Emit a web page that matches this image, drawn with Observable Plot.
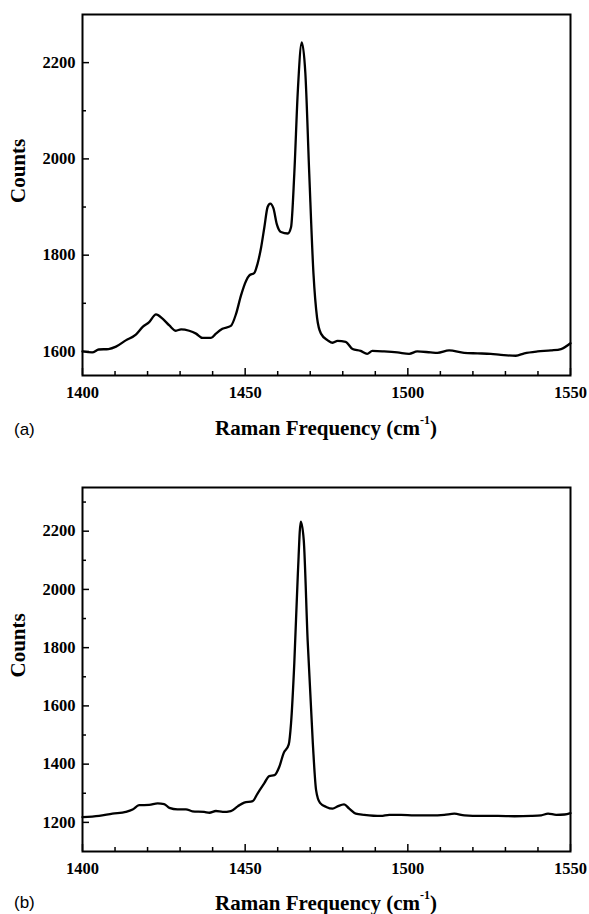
<!DOCTYPE html>
<html><head><meta charset="utf-8">
<script src="https://cdn.jsdelivr.net/npm/d3@7"></script>
<script src="https://cdn.jsdelivr.net/npm/@observablehq/plot@0.6"></script>
<style>
body{margin:0;background:#fff;}
#page{position:relative;width:589px;height:914px;overflow:hidden;background:#fff;}
.panel{position:absolute;left:0;width:589px;}
.xt{position:absolute;font-family:"Liberation Serif",serif;font-weight:bold;font-size:21px;white-space:nowrap;transform:translate(-50%,-50%);color:#000;}
.xt sup{font-size:12px;position:relative;top:-3px;}
.lab{position:absolute;font-family:"Liberation Sans",Arial,sans-serif;font-size:17px;transform:translate(0,-50%);color:#000;}
</style></head>
<body>
<div id="page">
  <div class="panel" id="pa" style="top:0px"></div>
  <div class="panel" id="pb" style="top:460px"></div>
  <div class="lab" style="left:14px;top:430px">(a)</div>
  <div class="xt" style="left:326px;top:428px">Raman Frequency (cm<sup>-1</sup>)</div>
  <div class="lab" style="left:14px;top:903px">(b)</div>
  <div class="xt" style="left:326px;top:903px">Raman Frequency (cm<sup>-1</sup>)</div>
</div>
<script>
const xMajor = [1400, 1450, 1500, 1550];
const xMinor = [1410,1420,1430,1440,1460,1470,1480,1490,1510,1520,1530,1540];

const yMajorA = [1600, 1800, 2000, 2200];
const yMinorA = [1700, 1900, 2100];
const yMajorB = [1200, 1400, 1600, 1800, 2000, 2200];
const yMinorB = [1300, 1500, 1700, 1900, 2100, 2300];

const freqA = [1400,1403,1405,1408,1410.3,1413.3,1416.4,1418.5,1420.5,1422.6,1424.6,1426.7,1428.7,1430.3,1432.8,1434.9,1436.9,1439.5,1441,1443,1445.6,1447.2,1448.7,1450.3,1451.3,1452.8,1453.8,1454.9,1455.9,1456.9,1457.7,1458.7,1459.7,1461,1463.1,1464.1,1465.1,1466.2,1467.4,1468.5,1469.7,1471,1472.1,1473.3,1475.4,1476.9,1478.4,1480.9,1483,1485.5,1487.5,1489.1,1492.7,1496.8,1500.4,1502.9,1507,1509.1,1512.7,1517.3,1521.4,1525.5,1528.6,1533.2,1535.8,1539.9,1544,1547.1,1550];
const countsA = [1600,1598,1604,1605,1610,1623,1635,1651,1661,1677,1668,1654,1643,1646,1643,1637,1628,1628,1637,1647,1653,1678,1716,1747,1758,1763,1782,1816,1858,1900,1907,1897,1865,1848,1845,1858,1969,2143,2242,2178,1969,1761,1670,1637,1623,1618,1622,1620,1605,1601,1595,1601,1600,1598,1595,1600,1598,1597,1602,1597,1596,1595,1593,1591,1596,1600,1602,1605,1617];

const freqB = [1400,1405.1,1409.2,1413.3,1415.4,1417.4,1420.5,1423.1,1425.1,1426.7,1429.2,1431.8,1433.8,1437.4,1439,1441,1443.1,1445.6,1447.7,1449.7,1452.3,1453.8,1455.9,1457.4,1459,1460.5,1461.8,1463.4,1464.1,1465.1,1466.2,1467.1,1468,1469.2,1470.8,1471.8,1473,1474.9,1476.9,1478.4,1480.4,1482,1484,1486.6,1491.7,1494.3,1497.9,1502,1507.1,1511.2,1514.3,1517.4,1522.5,1527.7,1532.8,1537.9,1541,1543.1,1545.6,1548.2,1550];
const countsB = [1218,1222,1230,1236,1244,1259,1260,1265,1263,1250,1245,1245,1238,1236,1233,1239,1236,1239,1255,1268,1273,1299,1335,1359,1362,1391,1437,1468,1540,1746,2055,2233,2170,1826,1471,1311,1267,1253,1247,1255,1262,1247,1230,1226,1222,1226,1226,1224,1224,1226,1230,1224,1222,1222,1221,1222,1224,1230,1226,1227,1232];

function panel(freq, counts, yDomain, yMajor, yMinor, marginTop, height, marginBottom) {
  const data = freq.map((f, i) => ({f, c: counts[i]}));
  const W = 589, mL = 82, mR = 19;
  const innerH = height - marginTop - marginBottom;
  const innerW = W - mL - mR;
  return Plot.plot({
    width: W, height, marginLeft: mL, marginRight: mR, marginTop, marginBottom,
    style: {fontFamily: "'Liberation Serif', serif", fontWeight: "bold", fontSize: "16.5px", color: "#000", background: "#fff"},
    x: {domain: [1400, 1550]},
    y: {domain: yDomain},
    marks: [
      Plot.line(data, {x: "f", y: "c", stroke: "#000", strokeWidth: 2.3, curve: "monotone-x"}),
      Plot.tickX(xMinor, {x: d => d, insetTop: innerH - 4, stroke: "#000", strokeWidth: 1.5}),
      Plot.tickX(xMajor, {x: d => d, insetTop: innerH - 7, stroke: "#000", strokeWidth: 1.5}),
      Plot.tickY(yMinor, {y: d => d, insetRight: innerW - 4, stroke: "#000", strokeWidth: 1.5}),
      Plot.tickY(yMajor, {y: d => d, insetRight: innerW - 7, stroke: "#000", strokeWidth: 1.5}),
      Plot.axisX(xMajor, {tickSize: 0, tickPadding: 11, label: null, tickFormat: d => String(d)}),
      Plot.axisY(yMajor, {tickSize: 0, tickPadding: 7, label: null, tickFormat: d => String(d)}),
      Plot.text(["Counts"], {text: d => d, frameAnchor: "left", dx: -64, dy: 8, rotate: -90, fontSize: 21, fontWeight: "bold"}),
      Plot.frame({stroke: "#000", strokeWidth: 2})
    ]
  });
}

document.getElementById("pa").appendChild(panel(freqA, countsA, [1550, 2300], yMajorA, yMinorA, 14, 420, 45));
document.getElementById("pb").appendChild(panel(freqB, countsB, [1100, 2350], yMajorB, yMinorB, 27, 440, 49));
</script>
</body></html>
